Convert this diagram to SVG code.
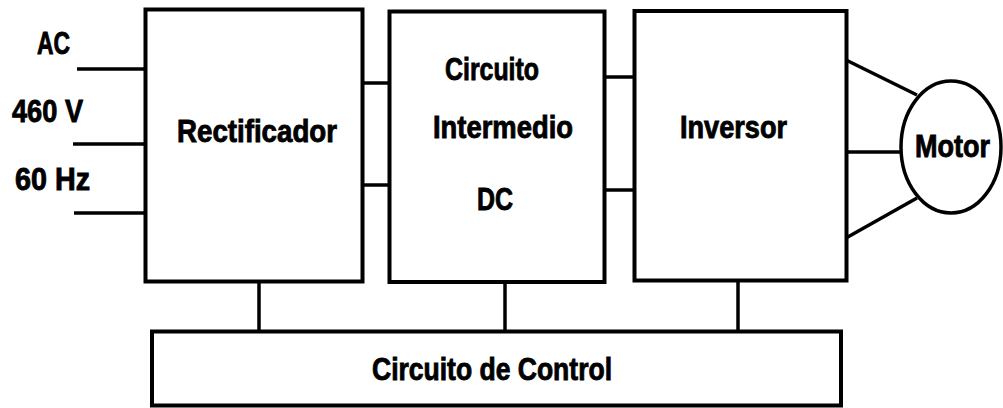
<svg xmlns="http://www.w3.org/2000/svg" width="1003" height="408" viewBox="0 0 1003 408">
<style>
.box{fill:#fff;stroke:#000;stroke-width:4}
.ln{stroke:#000;stroke-width:3.5;fill:none}
text{font-family:"Liberation Sans",Arial,sans-serif;font-weight:bold;font-size:32px;fill:#000;stroke:#000;stroke-width:0.9}
</style>
<rect width="1003" height="408" fill="#fff"/>
<g id="connectors">
<line class="ln" x1="77" y1="69" x2="145" y2="69"/>
<line class="ln" x1="73" y1="144" x2="145" y2="144"/>
<line class="ln" x1="74" y1="213" x2="145" y2="213"/>
<line class="ln" x1="362" y1="83" x2="390" y2="83"/>
<line class="ln" x1="362" y1="185" x2="390" y2="185"/>
<line class="ln" x1="604" y1="77" x2="635" y2="77"/>
<line class="ln" x1="604" y1="190" x2="635" y2="190"/>
<line class="ln" x1="846" y1="60" x2="917" y2="95"/>
<line class="ln" x1="846" y1="152" x2="901" y2="152"/>
<line class="ln" x1="846" y1="238" x2="917" y2="198"/>
<line class="ln" x1="259" y1="282" x2="259" y2="332"/>
<line class="ln" x1="505" y1="282" x2="505" y2="332"/>
<line class="ln" x1="738" y1="281" x2="738" y2="332"/>
</g>
<g id="input-labels">
<text x="37" y="54" textLength="33" lengthAdjust="spacingAndGlyphs">AC</text>
<text x="12" y="122" textLength="71" lengthAdjust="spacingAndGlyphs">460 V</text>
<text x="15" y="190" textLength="75" lengthAdjust="spacingAndGlyphs">60 Hz</text>
</g>
<g id="rectificador">
<rect class="box" x="145.5" y="9.5" width="217" height="272"/>
<text x="177" y="142" textLength="160" lengthAdjust="spacingAndGlyphs">Rectificador</text>
</g>
<g id="circuito-intermedio">
<rect class="box" x="389.5" y="11.5" width="215" height="270.5"/>
<text x="445" y="80" textLength="94" lengthAdjust="spacingAndGlyphs">Circuito</text>
<text x="433" y="138" textLength="140" lengthAdjust="spacingAndGlyphs">Intermedio</text>
<text x="477" y="210" textLength="36" lengthAdjust="spacingAndGlyphs">DC</text>
</g>
<g id="inversor">
<rect class="box" x="634.5" y="11" width="212" height="269.5"/>
<text x="680" y="138" textLength="107" lengthAdjust="spacingAndGlyphs">Inversor</text>
</g>
<g id="motor">
<ellipse cx="951" cy="147" rx="50" ry="66" fill="#fff" stroke="#000" stroke-width="3.5"/>
<text x="915" y="157" textLength="75" lengthAdjust="spacingAndGlyphs">Motor</text>
</g>
<g id="circuito-control">
<rect class="box" x="152" y="331.5" width="689" height="74"/>
<text x="372" y="380" textLength="240" lengthAdjust="spacingAndGlyphs">Circuito de Control</text>
</g>
</svg>
